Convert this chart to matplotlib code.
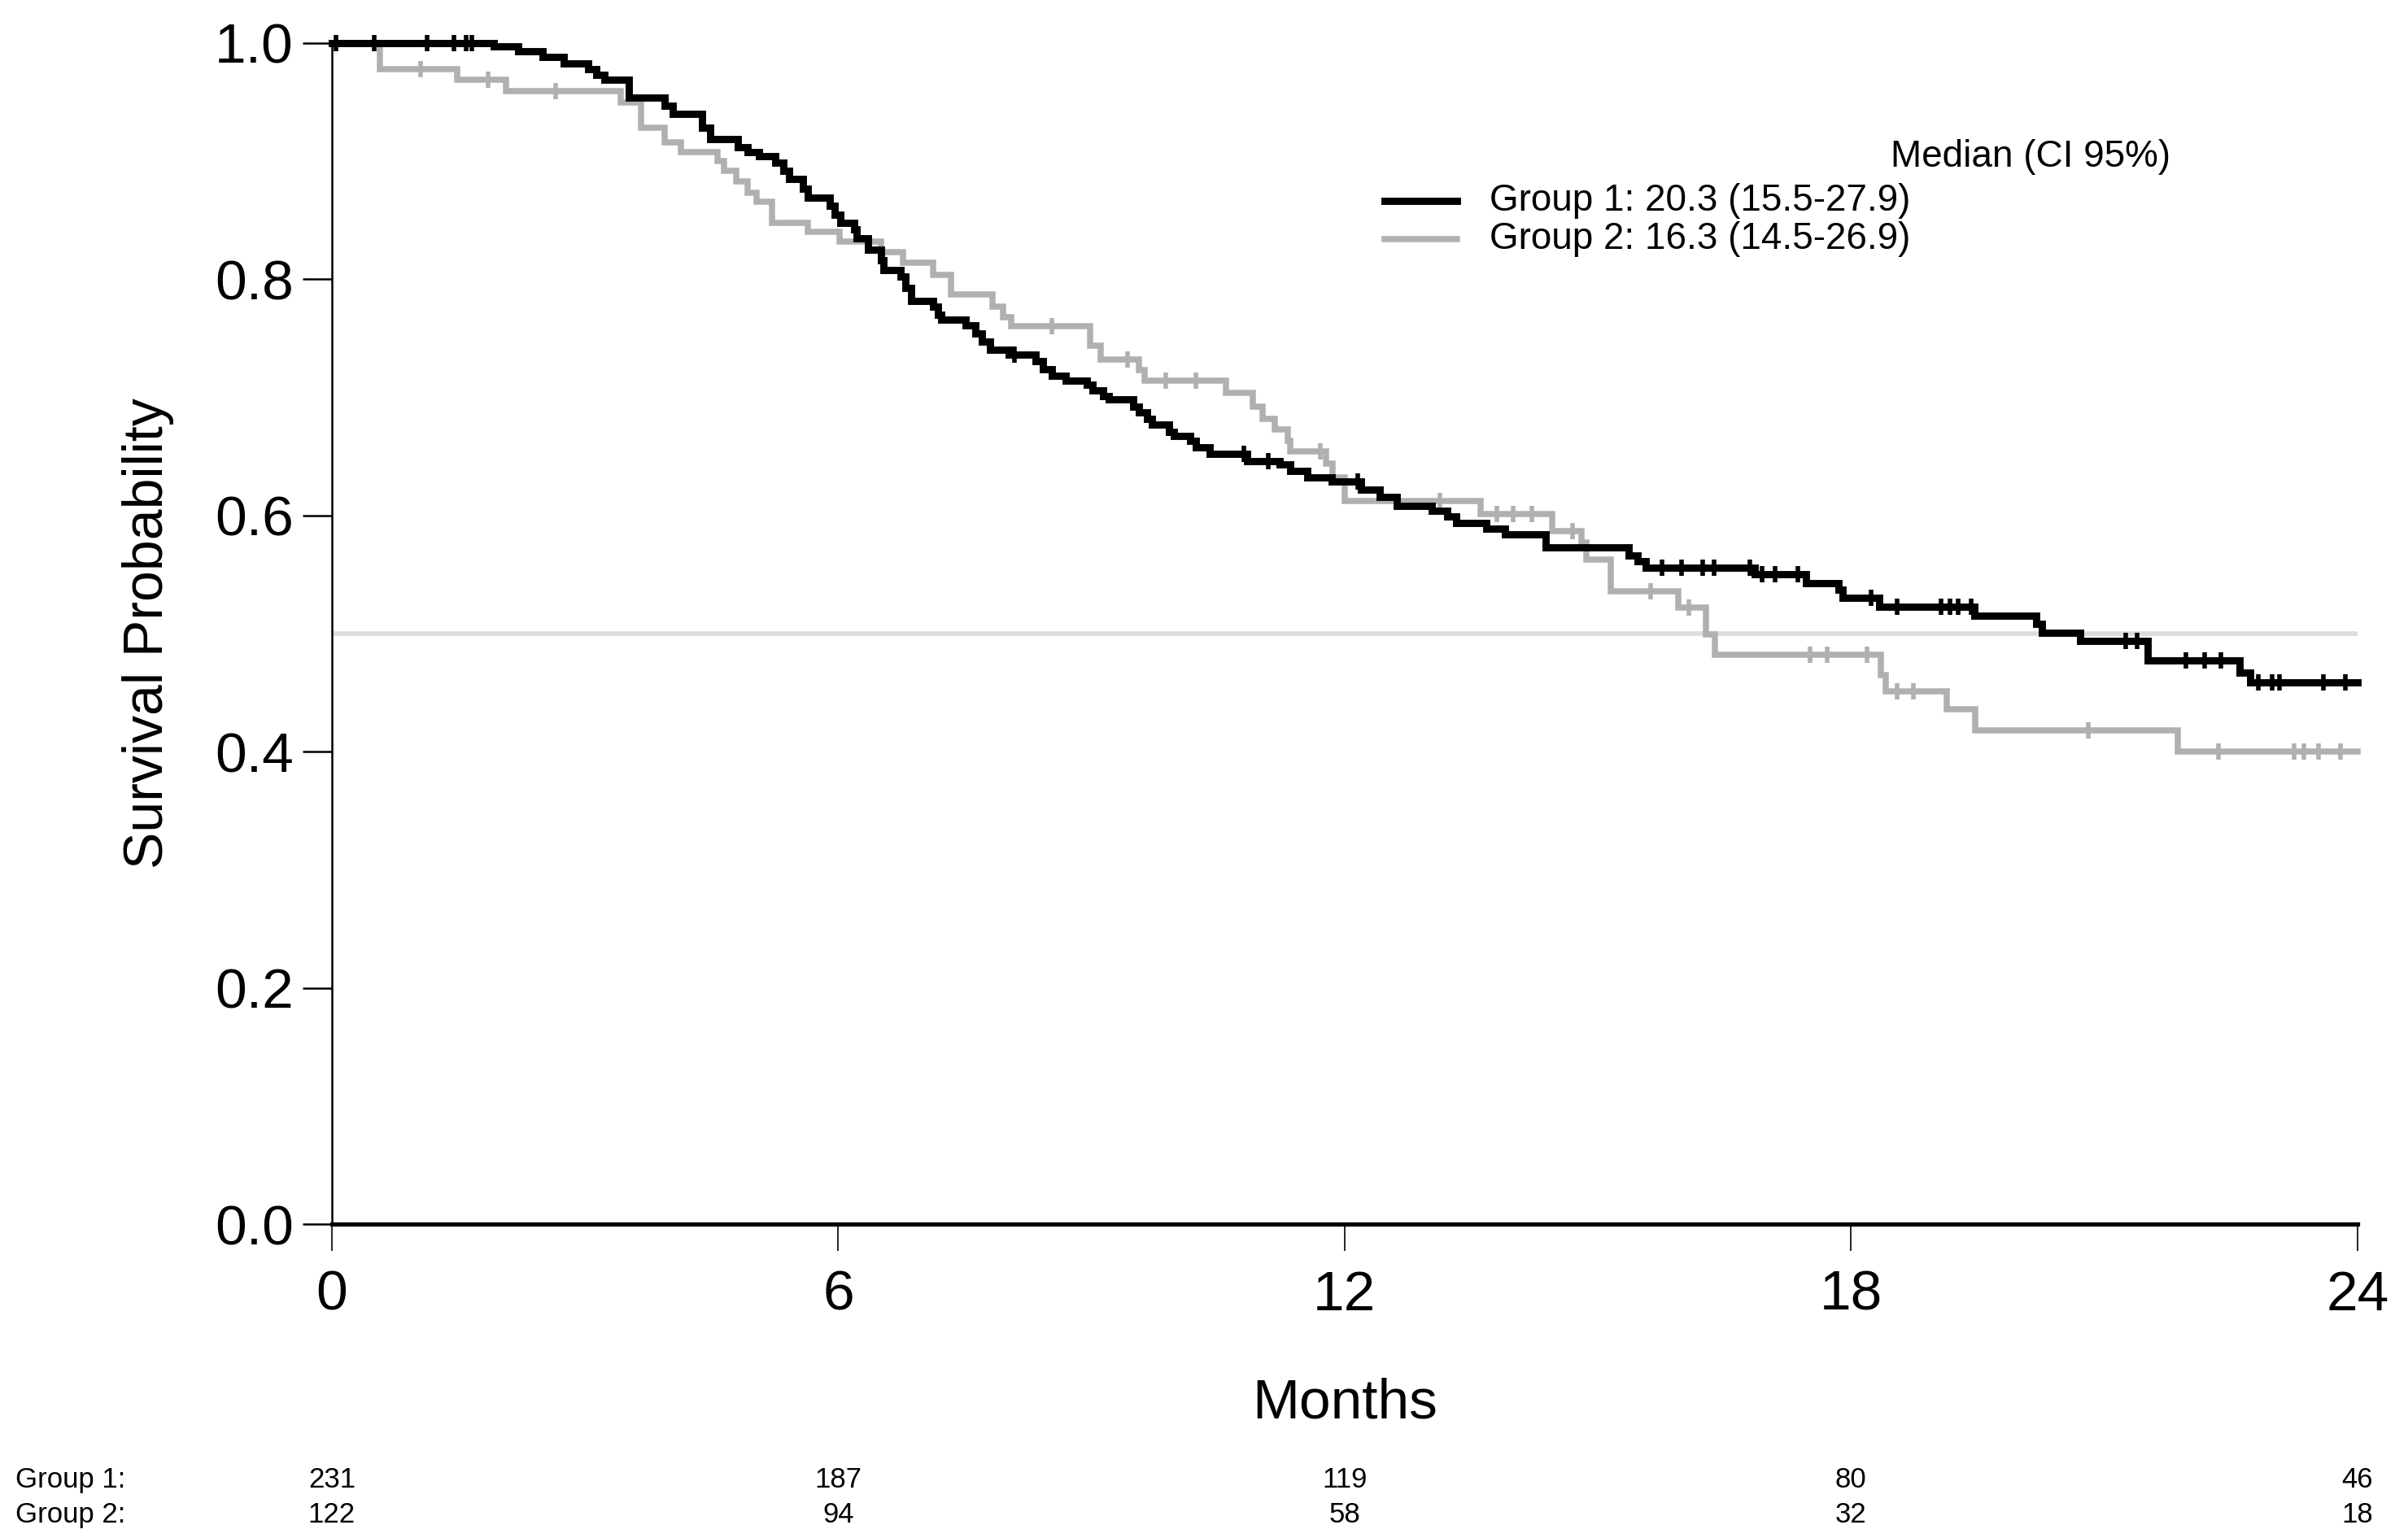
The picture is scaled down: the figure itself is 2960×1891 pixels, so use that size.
import matplotlib
matplotlib.use("Agg")
import matplotlib.pyplot as plt
from matplotlib.lines import Line2D
import numpy as np

plt.rcParams['font.family'] = ['Liberation Sans', 'DejaVu Sans']

# Kaplan-Meier steps: (month of the step, survival after it)
g1_times = [0, 1.92, 2.21, 2.50, 2.75, 3.04, 3.13, 3.23, 3.52, 3.94, 4.04, 4.39, 4.48,
            4.81, 4.93, 5.06, 5.25, 5.35, 5.42, 5.58, 5.64, 5.90, 5.96, 6.03, 6.19, 6.22,
            6.35, 6.51, 6.54, 6.74, 6.80, 6.86, 7.12, 7.18, 7.22, 7.51, 7.63, 7.70, 7.80,
            8.02, 8.34, 8.43, 8.53, 8.70, 8.95, 9.01, 9.14, 9.21, 9.50, 9.56, 9.66, 9.72,
            9.92, 9.98, 10.17, 10.24, 10.40, 10.84, 11.23, 11.36, 11.56, 11.85, 12.19,
            12.42, 12.62, 13.03, 13.22, 13.32, 13.68, 13.90, 14.38, 15.37, 15.47, 15.57,
            16.86, 17.47, 17.85, 17.90, 18.33, 19.46, 20.19, 20.26, 20.71, 21.51, 22.60,
            22.73]
g1_surv = [1.0, 0.997, 0.993, 0.988, 0.983, 0.978, 0.973, 0.969, 0.954, 0.947, 0.940,
           0.928, 0.919, 0.912, 0.908, 0.904, 0.899, 0.892, 0.885, 0.877, 0.869, 0.862,
           0.855, 0.848, 0.842, 0.835, 0.825, 0.816, 0.808, 0.802, 0.793, 0.782, 0.777,
           0.770, 0.766, 0.761, 0.754, 0.747, 0.740, 0.736, 0.731, 0.724, 0.718, 0.714,
           0.711, 0.706, 0.701, 0.698, 0.692, 0.687, 0.682, 0.677, 0.671, 0.667, 0.663,
           0.658, 0.652, 0.646, 0.643, 0.638, 0.632, 0.629, 0.622, 0.616, 0.608, 0.604,
           0.599, 0.594, 0.589, 0.584, 0.573, 0.566, 0.561, 0.556, 0.550, 0.543, 0.537,
           0.530, 0.523, 0.515, 0.508, 0.501, 0.494, 0.477, 0.467, 0.459]
g1_censor = [0.05, 0.50, 1.13, 1.45, 1.59, 1.66, 8.09, 10.81, 11.10, 12.16, 15.76, 15.99,
             16.24, 16.38, 16.80, 16.95, 17.10, 17.37, 18.24, 18.55, 19.07, 19.17, 19.27,
             19.42, 21.25, 21.39, 21.97, 22.19, 22.38, 22.83, 22.99, 23.08, 23.60, 23.86]

g2_times = [0, 0.57, 1.49, 2.06, 3.42, 3.66, 3.94, 4.14, 4.57, 4.65, 4.79, 4.93, 5.03,
            5.22, 5.64, 6.02, 6.51, 6.77, 7.12, 7.34, 7.83, 7.95, 8.05, 8.98, 9.11, 9.56,
            9.63, 10.59, 10.91, 11.03, 11.17, 11.33, 11.36, 11.78, 11.86, 12.00, 13.61,
            14.46, 14.81, 14.86, 15.15, 15.95, 16.28, 16.39, 18.35, 18.41, 19.13, 19.47,
            21.87]
g2_surv = [1.0, 0.978, 0.969, 0.959, 0.950, 0.928, 0.916, 0.908, 0.900, 0.892, 0.883,
           0.873, 0.866, 0.848, 0.840, 0.832, 0.823, 0.814, 0.804, 0.787, 0.777, 0.768,
           0.760, 0.744, 0.732, 0.723, 0.714, 0.704, 0.692, 0.682, 0.673, 0.663, 0.654,
           0.644, 0.632, 0.612, 0.601, 0.587, 0.577, 0.563, 0.536, 0.522, 0.499, 0.482,
           0.465, 0.451, 0.436, 0.418, 0.400]
g2_censor = [1.05, 1.85, 2.65, 8.53, 9.43, 9.88, 10.24, 11.71, 13.13, 13.80, 14.00,
             14.22, 14.70, 15.63, 16.08, 17.51, 17.72, 18.19, 18.55, 18.74, 20.81, 22.35,
             23.25, 23.37, 23.54, 23.80]

group_names = ['Group 1', 'Group 2']
medians = ['20.3 (15.5-27.9)', '16.3 (14.5-26.9)']
risk_months = [0, 6, 12, 18, 24]
g1_at_risk = [231, 187, 119, 80, 46]
g2_at_risk = [122, 94, 58, 32, 18]
x_ticks = [0, 6, 12, 18, 24]
y_ticks = [0.0, 0.2, 0.4, 0.6, 0.8, 1.0]

colors = ['black', '#b0b0b0']
widths = [3.2, 2.7]


def surv_at(times, surv, t):
    # value of the step function just at time t
    i = np.searchsorted(times, t, side='right') - 1
    return np.array(surv)[i]


fig = plt.figure(figsize=(14.8, 9.455), dpi=200)
ax = fig.add_axes([0.1378, 0.2041, 0.8412, 0.7679])

# 50% reference line
ax.axhline(0.5, color='#dcdcdc', lw=2.0, zorder=1)

series = [(g2_times, g2_surv, g2_censor), (g1_times, g1_surv, g1_censor)]
for k, (t, s, c) in zip([1, 0], series):
    tt = list(t) + [24]
    ss = list(s) + [s[-1]]
    ax.step(tt, ss, where='post', color=colors[k], lw=widths[k], zorder=3 - k,
            solid_joinstyle='miter', clip_on=False)
    cy = [surv_at(t, s, x) for x in c]
    ax.plot(c, cy, ls='none', marker='|', ms=7, mew=2.0, color=colors[k],
            zorder=3 - k, clip_on=False)

# axes look
ax.set_xlim(0, 24)
ax.set_ylim(0, 1.0)
ax.spines['top'].set_visible(False)
ax.spines['right'].set_visible(False)
ax.spines['left'].set_linewidth(0.9)
ax.spines['bottom'].set_linewidth(1.9)
ax.set_xticks(x_ticks)
ax.set_xticklabels([str(v) for v in x_ticks])
ax.set_yticks(y_ticks)
ax.set_yticklabels([f'{v:.1f}' for v in y_ticks])
ax.tick_params(axis='x', direction='out', length=12, width=0.6, pad=8, labelsize=25)
ax.tick_params(axis='y', direction='out', length=13, width=0.9, pad=4, labelsize=25)

ax.set_xlabel('Months', fontsize=25)
ax.xaxis.set_label_coords(0.5, -0.13)
ax.set_ylabel('Survival Probability', fontsize=24.5)
ax.yaxis.set_label_coords(-0.078, 0.5)

# legend drawn by hand
small = 16.5
fig.text(0.785, 0.898, 'Median (CI 95%)', fontsize=small, va='center', ha='left')
for k, y in enumerate([0.8694, 0.8445]):
    fig.add_artist(Line2D([0.575, 0.605], [y, y], transform=fig.transFigure,
                          color=colors[k], lw=widths[k]))
    fig.text(0.6186, y, f'{group_names[k]}: {medians[k]}', fontsize=small,
             va='center', ha='left')

# numbers at risk under the x axis (tight rows, like the original)
risk_fs = 12.5
trans = matplotlib.transforms.blended_transform_factory(ax.transData, fig.transFigure)
for rows, y, name in [(g1_at_risk, 0.0376, group_names[0]), (g2_at_risk, 0.0153, group_names[1])]:
    fig.text(0.0064, y, name + ':', fontsize=risk_fs, va='center', ha='left')
    for m, n in zip(risk_months, rows):
        ax.text(m, y, str(n), transform=trans, fontsize=risk_fs, va='center', ha='center')

fig.savefig('out.png', dpi=200)
